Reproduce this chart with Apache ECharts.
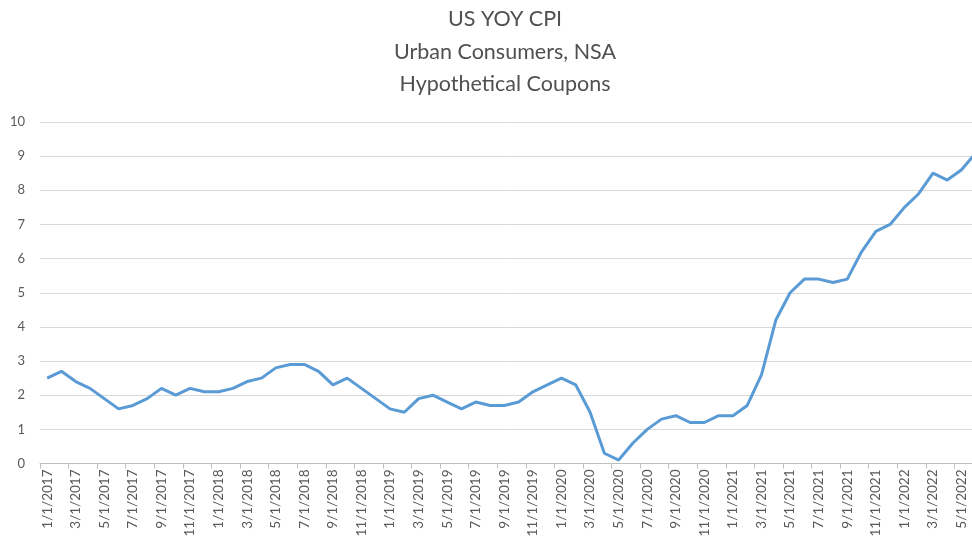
<!DOCTYPE html>
<html>
<head>
<meta charset="utf-8">
<script src="https://cdn.jsdelivr.net/npm/echarts@6/dist/echarts.min.js"></script>
<style>
html,body{margin:0;padding:0;background:#fff;}
#chart{width:972px;height:543px;}
</style>
</head>
<body>
<div id="chart"></div>
<script>
var titleLines = ["US YOY CPI", "Urban Consumers, NSA", "Hypothetical Coupons"];

var categories = [
  "1/1/2017","2/1/2017","3/1/2017","4/1/2017","5/1/2017","6/1/2017","7/1/2017","8/1/2017","9/1/2017","10/1/2017","11/1/2017","12/1/2017",
  "1/1/2018","2/1/2018","3/1/2018","4/1/2018","5/1/2018","6/1/2018","7/1/2018","8/1/2018","9/1/2018","10/1/2018","11/1/2018","12/1/2018",
  "1/1/2019","2/1/2019","3/1/2019","4/1/2019","5/1/2019","6/1/2019","7/1/2019","8/1/2019","9/1/2019","10/1/2019","11/1/2019","12/1/2019",
  "1/1/2020","2/1/2020","3/1/2020","4/1/2020","5/1/2020","6/1/2020","7/1/2020","8/1/2020","9/1/2020","10/1/2020","11/1/2020","12/1/2020",
  "1/1/2021","2/1/2021","3/1/2021","4/1/2021","5/1/2021","6/1/2021","7/1/2021","8/1/2021","9/1/2021","10/1/2021","11/1/2021","12/1/2021",
  "1/1/2022","2/1/2022","3/1/2022","4/1/2022","5/1/2022","6/1/2022"
];

var cpiValues = [
  2.5,2.7,2.4,2.2,1.9,1.6,1.7,1.9,2.2,2.0,2.2,2.1,
  2.1,2.2,2.4,2.5,2.8,2.9,2.9,2.7,2.3,2.5,2.2,1.9,
  1.6,1.5,1.9,2.0,1.8,1.6,1.8,1.7,1.7,1.8,2.1,2.3,
  2.5,2.3,1.5,0.3,0.1,0.6,1.0,1.3,1.4,1.2,1.2,1.4,
  1.4,1.7,2.6,4.2,5.0,5.4,5.4,5.3,5.4,6.2,6.8,7.0,
  7.5,7.9,8.5,8.3,8.6,9.1
];

var yTicks = [0,1,2,3,4,5,6,7,8,9,10];

var chart = echarts.init(document.getElementById('chart'), null, {renderer:'canvas'});
var fontFam = 'Lato, "Open Sans", sans-serif';
chart.setOption({
  animation: false,
  backgroundColor: '#ffffff',
  title: {
    text: titleLines.join('\n'),
    left: 500,
    textAlign: 'center',
    top: -2,
    textStyle: {
      color: '#505050',
      fontSize: 21.5,
      fontWeight: 'normal',
      fontFamily: fontFam,
      lineHeight: 32.5
    }
  },
  grid: {left: 40, right: -11, top: 122, bottom: 79.5, containLabel: false, outerBoundsMode: 'none'},
  xAxis: {
    type: 'category',
    data: categories,
    boundaryGap: true,
    axisLine: {lineStyle: {color: '#bfbfbf', width: 1}},
    axisTick: {show: true, interval: 1, length: 5, lineStyle: {color: '#bfbfbf'}},
    axisLabel: {
      interval: 1,
      rotate: 90,
      margin: 6,
      color: '#595959',
      fontSize: 13.5,
      fontFamily: fontFam
    },
    splitLine: {show: false}
  },
  yAxis: {
    type: 'value',
    min: yTicks[0],
    max: yTicks[yTicks.length - 1],
    interval: 1,
    axisLine: {show: false},
    axisTick: {show: false},
    axisLabel: {color: '#595959', fontSize: 13, fontFamily: fontFam, margin: 15},
    splitLine: {lineStyle: {color: '#d9d9d9', width: 1}}
  },
  series: [{
    type: 'line',
    data: cpiValues,
    showSymbol: false,
    symbol: 'none',
    lineStyle: {color: '#5b9bd5', width: 3},
    itemStyle: {color: '#5b9bd5'}
  }]
});
</script>
</body>
</html>
